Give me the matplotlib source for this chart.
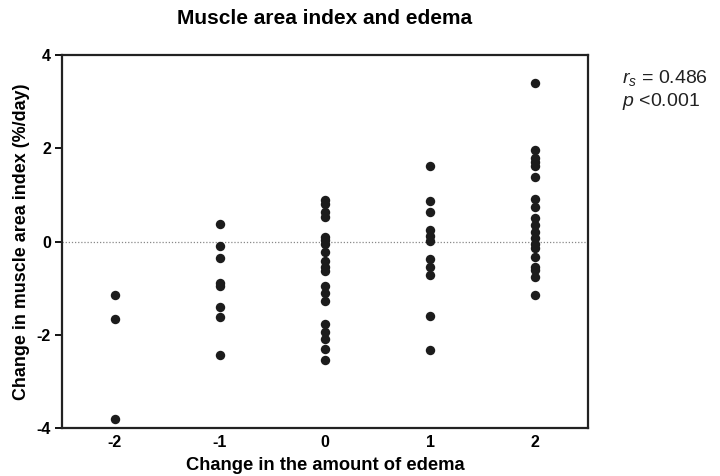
import matplotlib
matplotlib.use('Agg')
import matplotlib.pyplot as plt
import numpy as np

plt.rcParams['font.family'] = ['Liberation Sans', 'DejaVu Sans']
plt.rcParams['axes.unicode_minus'] = False
plt.rcParams['mathtext.fontset'] = 'custom'
plt.rcParams['mathtext.rm'] = 'Liberation Sans'
plt.rcParams['mathtext.it'] = 'Liberation Sans:italic'

# change in edema grade and change in muscle area index (%/day)
edema_levels = [-2, -1, 0, 1, 2]
mai_m2 = [-1.15, -1.67, -3.81]
mai_m1 = [0.37, -0.09, -0.36, -0.90, -0.95, -1.41, -1.61, -2.44]
mai_0 = [0.89, 0.81, 0.63, 0.53, 0.10, 0.03, -0.05, -0.22, -0.42, -0.54, -0.63,
         -0.95, -1.11, -1.27, -1.77, -1.94, -2.09, -2.31, -2.54]
mai_p1 = [1.63, 0.87, 0.64, 0.25, 0.12, 0.02, -0.38, -0.54, -0.72, -1.60, -2.32]
mai_p2 = [3.41, 1.96, 1.79, 1.70, 1.61, 1.38, 0.91, 0.75, 0.50, 0.35, 0.21, 0.07,
          -0.05, -0.15, -0.33, -0.54, -0.62, -0.76, -1.15]
groups = [mai_m2, mai_m1, mai_0, mai_p1, mai_p2]

fig = plt.figure(figsize=(7.2, 4.76), dpi=100)
ax = fig.add_axes([62/720, 48/476, 526/720, 373/476])

for lvl, vals in zip(edema_levels, groups):
    ax.scatter(np.full(len(vals), lvl), vals, s=46, color='#1c1c1c', linewidths=0, zorder=3)

ax.axhline(0, color='#888888', lw=0.9, ls=(0, (1, 1.5)), zorder=1)

ax.set_xlim(-2.5, 2.5); ax.set_ylim(-4, 4)
ax.set_xticks(edema_levels); ax.set_yticks([-4, -2, 0, 2, 4])
ax.tick_params(axis='x', length=0, pad=5, labelsize=11.5)
ax.tick_params(axis='y', length=5, width=1.3, pad=3, labelsize=11.5)
for lab in ax.get_xticklabels() + ax.get_yticklabels():
    lab.set_fontweight('bold')
for sp in ax.spines.values():
    sp.set_linewidth(1.6); sp.set_color('#222222')

ax.set_xlabel('Change in the amount of edema', fontsize=13.2, fontweight='bold', labelpad=5)
ax.set_ylabel('Change in muscle area index (%/day)', fontsize=12.9, fontweight='bold', labelpad=5)
fig.text(325/720, 1-19/476, 'Muscle area index and edema', ha='center', va='center',
         fontsize=15, fontweight='bold')
fig.text(622/720, 1-78/476, r'$r_s$ = 0.486', ha='left', va='center', fontsize=14, color='#222222')
fig.text(622/720, 1-102/476, r'$p$ <0.001', ha='left', va='center', fontsize=14, color='#222222')

fig.savefig('out.png', dpi=100)
